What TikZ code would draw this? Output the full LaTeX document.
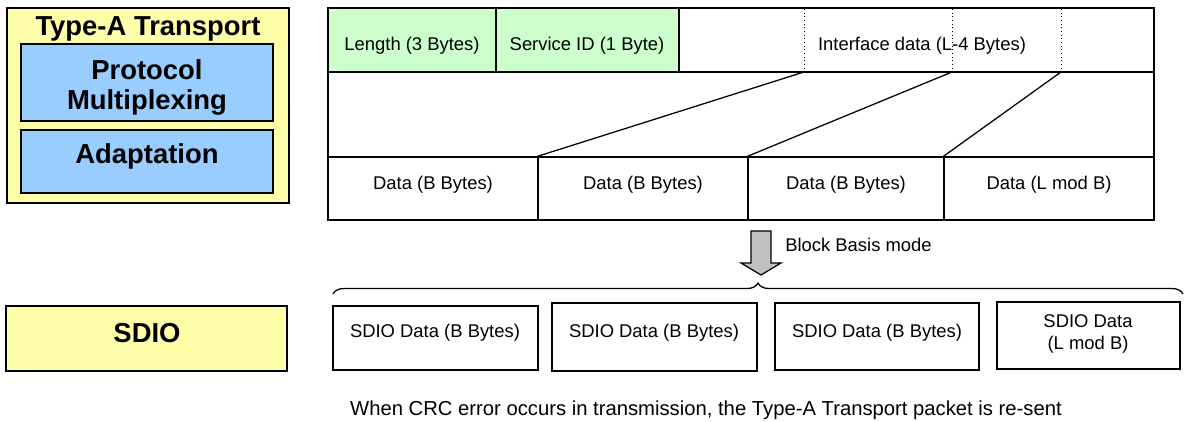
\documentclass[tikz,border=0pt]{standalone}
\usepackage{fontspec}
\setmainfont{Liberation Sans}
\usetikzlibrary{fit,decorations.pathreplacing}
\definecolor{layeryellow}{RGB}{255,255,170}
\definecolor{layerblue}{RGB}{153,204,255}
\definecolor{hdrgreen}{RGB}{204,255,204}
\definecolor{arrowgray}{RGB}{192,192,192}
\tikzset{
  box/.style={draw=black, line width=0.9pt, inner sep=0pt},
  layer/.style={box, fill=layeryellow},
  sublayer/.style={box, fill=layerblue},
  cell/.style={box, fill=white},
  hdr/.style={cell, fill=hdrgreen},
  bigtxt/.style={font=\fontsize{19.5}{21.3}\selectfont\bfseries, align=center, inner sep=0pt},
  txt/.style={font=\fontsize{13.1}{15.6}\selectfont, align=center, inner sep=0pt},
}

\begin{document}
\begin{tikzpicture}[x=0.025cm, y=-0.025cm]
  %%%%% START %%%%%
  \useasboundingbox (0,0) rectangle (1184,421);

  % left column: layers
  \node[layer, fit={(7,8) (289,203)}] (typea) {};
  \node[bigtxt] (typeatxt) at (148,29) {Type-A Transport};
  \node[sublayer, fit={(21,44) (273,121)}] (mux) {};
  \node[bigtxt, text depth=0pt] (muxtxt) at (147,85) {Protocol\\Multiplexing};
  \node[sublayer, fit={(21,130) (273,193)}] (adapt) {};
  \node[bigtxt] (adapttxt) at (147,156) {Adaptation};

  \node[layer, fit={(6,306) (287,371)}] (sdio) {};
  \node[bigtxt] (sdiotxt) at (147,333) {SDIO};

  % Type-A Transport packet
  \node[box, fit={(328,72) (1154,157)}] (gap) {};
  \node[hdr, fit={(328,8) (496,72)}] (len) {};
  \node[hdr, fit={(496,8) (679,72)}] (sid) {};
  \node[cell, fit={(679,8) (1154,72)}] (pay) {};
  \node[txt] (lentxt) at (412,46) {Length (3 Bytes)};
  \node[txt] (sidtxt) at (587,46) {Service ID (1 Byte)};
  \node[txt] (paytxt) at (922,46) {Interface data (L-4 Bytes)};

  \coordinate (cut1) at (804,72);
  \coordinate (cut2) at (952,72);
  \coordinate (cut3) at (1061,72);
  \draw[dotted, line width=0.6pt] (cut1) -- (cut1 |- pay.north);
  \draw[dotted, line width=0.6pt] (cut2) -- (cut2 |- pay.north);
  \draw[dotted, line width=0.6pt] (cut3) -- (cut3 |- pay.north);

  \node[cell, fit={(328,157) (538,220)}] (d1) {};
  \node[cell, fit={(538,157) (748,220)}] (d2) {};
  \node[cell, fit={(748,157) (944,220)}] (d3) {};
  \node[cell, fit={(944,157) (1154,220)}] (d4) {};
  \node[txt] (d1txt) at (433,185) {Data (B Bytes)};
  \node[txt] (d2txt) at (643,185) {Data (B Bytes)};
  \node[txt] (d3txt) at (846,185) {Data (B Bytes)};
  \node[txt] (d4txt) at (1049,185) {Data (L mod B)};

  \draw[line width=0.9pt] (cut1) -- (d2.north west);
  \draw[line width=0.9pt] (cut2) -- (d3.north west);
  \draw[line width=0.9pt] (cut3) -- (d4.north west);

  % block basis mode
  \draw[line width=0.9pt, fill=arrowgray] (751,231) -- (771,231) -- (771,263) -- (781,263)
    -- (761,275) -- (741,263) -- (751,263) -- cycle;
  \node[txt, anchor=west] (mode) at (785,245) {Block Basis mode};

  \coordinate (brl) at (333,294);
  \coordinate (brr) at (1183,294);
  \draw[line width=0.9pt, decorate, decoration={brace, amplitude=7.8pt}] (brl) -- (brr);

  % SDIO blocks
  \node[cell, fit={(333,306) (538,370)}] (s1) {};
  \node[cell, fit={(552,303) (757,371)}] (s2) {};
  \node[cell, fit={(775,303) (979,370)}] (s3) {};
  \node[cell, fit={(997,302) (1180,369)}] (s4) {};
  \node[txt] (s1txt) at (435,333) {SDIO Data (B Bytes)};
  \node[txt] (s2txt) at (654,333) {SDIO Data (B Bytes)};
  \node[txt] (s3txt) at (877,333) {SDIO Data (B Bytes)};
  \node[txt] (s4txt) at (1088,334) {SDIO Data\\(L mod B)};

  \node[txt, font=\fontsize{14.4}{17}\selectfont] (note) at (706,410) {When CRC error occurs in transmission, the Type-A Transport packet is re-sent};
  %%%%% END %%%%%
\end{tikzpicture}
\end{document}
